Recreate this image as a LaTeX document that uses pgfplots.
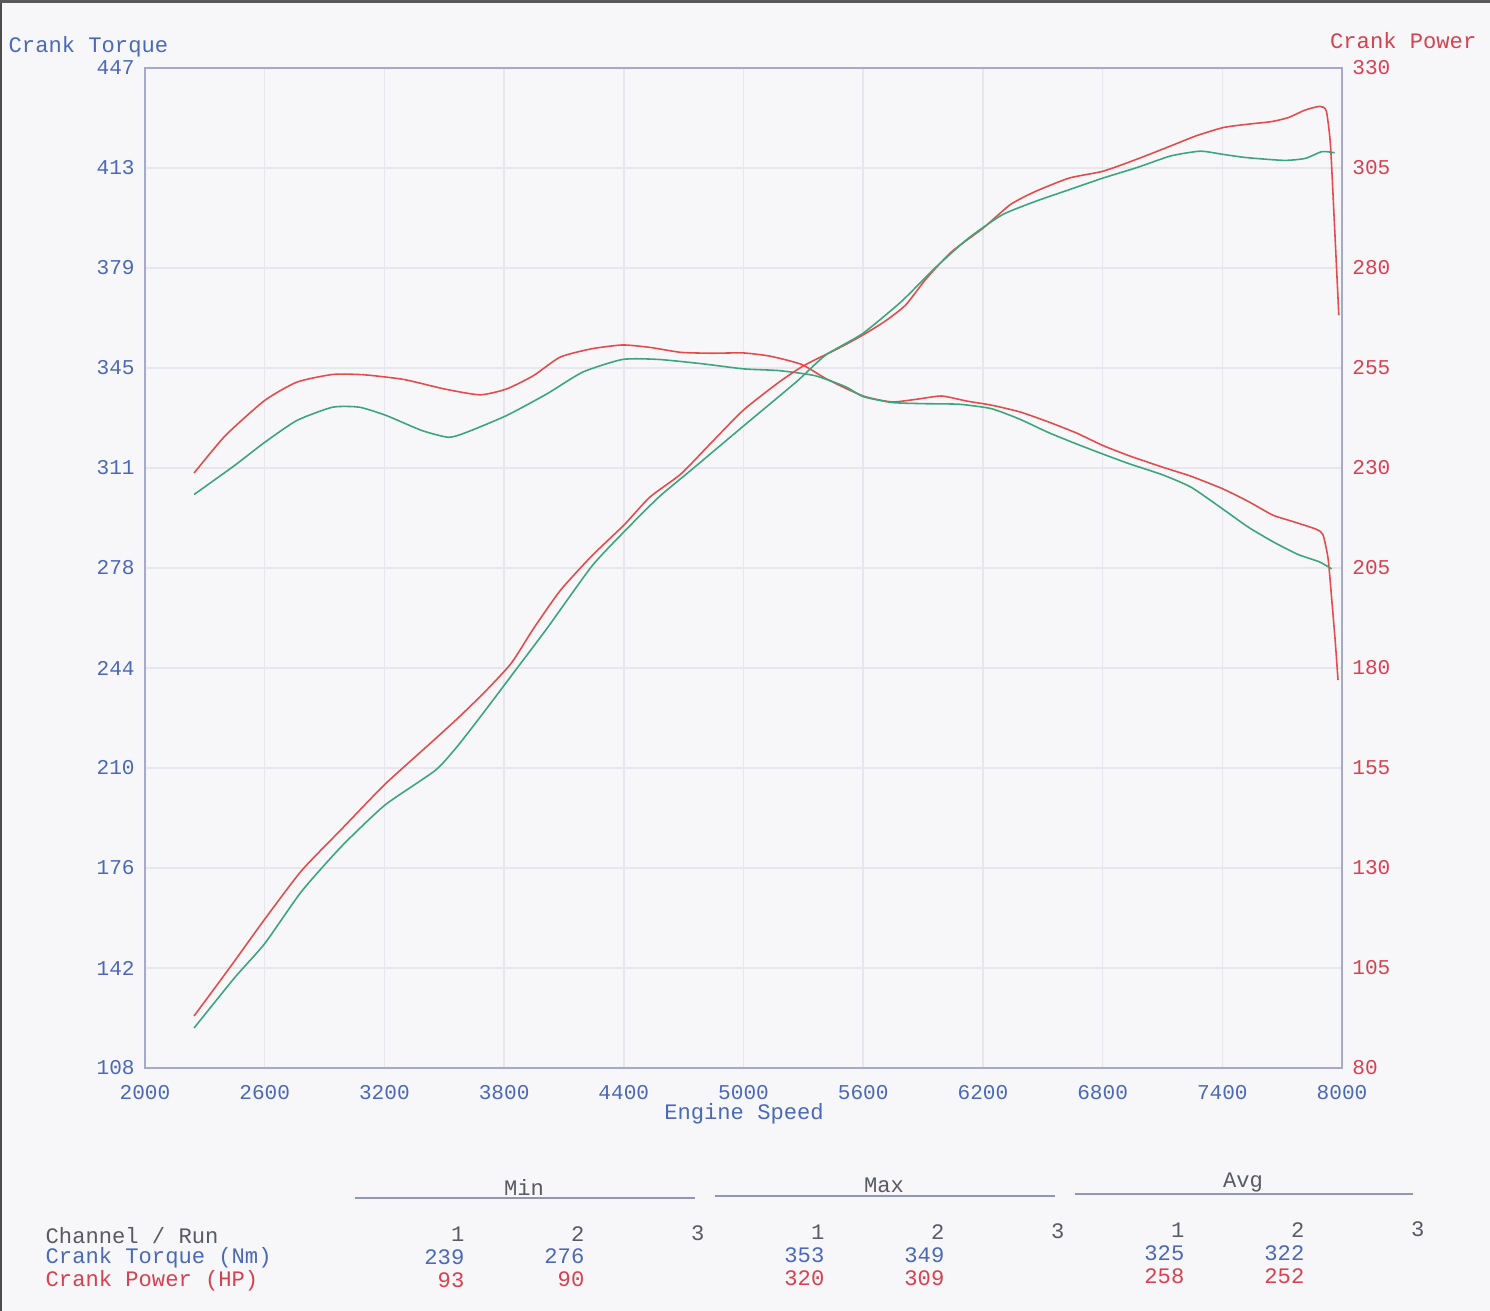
\documentclass[border=0pt]{standalone}
\usepackage{fontspec}
\setmainfont{Liberation Mono}
\usepackage{pgfplots}
\pgfplotsset{compat=1.18}
\definecolor{paper}{RGB}{247,247,249}
\definecolor{bluetext}{RGB}{75,105,185}
\definecolor{redtext}{RGB}{215,65,80}
\definecolor{graytext}{RGB}{90,90,100}
\definecolor{redline}{RGB}{228,75,75}
\definecolor{greenline}{RGB}{60,165,125}
\definecolor{gridc}{RGB}{230,230,236}
\definecolor{framec}{RGB}{165,170,205}
\definecolor{rulec}{RGB}{145,150,185}
\newcommand{\tf}{\fontsize{6.3}{7.5}\selectfont}
\begin{document}
\begin{tikzpicture}[x=1cm,y=1cm]
\fill[paper] (0,0) rectangle (14.9,13.11);
\path[use as bounding box] (0,0) rectangle (14.9,13.11);
\fill[black!70] (0,0) rectangle (0.025,13.11);
\fill[black!65] (0,13.08) rectangle (14.9,13.11);
\begin{axis}[
  scale only axis, width=11.97cm, height=10cm,
  at={(1.45cm,2.43cm)}, anchor=south west,
  xmin=2000, xmax=8000, ymin=108, ymax=447,
  xtick={2000,2600,3200,3800,4400,5000,5600,6200,6800,7400,8000},
  xticklabels={2000,2600,3200,3800,4400,5000,5600,6200,6800,7400,8000},
  ytick={108,141.9,175.8,209.7,243.6,277.5,311.4,345.3,379.2,413.1,447},
  yticklabels={108,142,176,210,244,278,311,345,379,413,447},
  grid=major, major grid style={gridc, line width=0.45pt},
  axis line style={framec, line width=0.5pt},
  major tick length=0pt,
  tick label style={font=\fontsize{6}{7}\selectfont, text=bluetext},
  xticklabel style={yshift=-0.05cm},
  yticklabel style={xshift=0.02cm},
  every axis plot/.append style={line width=0.45pt, smooth, tension=0.35},
  clip=false,
]
\addplot[redline] coordinates {
(2246,309.7)(2403,322.4)(2600,334.3)(2761,340.5)(2940,343.1)(3097,343.0)(3298,341.4)(3500,338.2)(3679,336.2)(3813,338.2)(3947,342.7)(4081,349.0)(4238,351.8)(4394,353.1)(4529,352.3)(4686,350.6)(4842,350.3)(5000,350.4)(5134,349.3)(5291,346.5)(5421,341.4)(5600,335.8)(5743,333.8)(5868,334.7)(5993,335.8)(6118,334.1)(6243,332.7)(6386,330.4)(6529,327.0)(6671,323.2)(6802,319.0)(6939,315.4)(7100,311.7)(7243,308.6)(7400,304.4)(7529,300.1)(7654,295.4)(7761,293.1)(7868,290.7)(7904,288.9)(7930,280.8)(7948,267.3)(7966,252.7)(7980,239.5)};
\addplot[greenline] coordinates {
(2246,302.4)(2448,312.2)(2600,320.1)(2761,327.5)(2940,332.0)(3075,332.0)(3209,329.2)(3388,324.1)(3522,321.8)(3612,323.5)(3813,329.2)(4014,336.5)(4194,343.9)(4394,348.2)(4574,348.2)(4797,346.7)(5000,345.0)(5179,344.4)(5358,342.7)(5510,339.0)(5600,335.6)(5743,333.6)(5904,333.2)(6082,333.0)(6243,331.5)(6386,327.9)(6529,323.4)(6671,319.5)(6802,316.1)(6939,312.7)(7100,309.1)(7243,304.9)(7400,297.6)(7529,291.4)(7654,286.4)(7779,282.1)(7886,279.6)(7948,277.2)};
\end{axis}
\begin{axis}[
  scale only axis, width=11.97cm, height=10cm,
  at={(1.45cm,2.43cm)}, anchor=south west,
  xmin=2000, xmax=8000, ymin=80, ymax=330,
  axis x line=none, axis y line*=right,
  ytick={80,105,...,330},
  yticklabels={80,105,130,155,180,205,230,255,280,305,330},
  axis line style={framec, line width=0.5pt},
  major tick length=0pt,
  tick label style={font=\fontsize{6}{7}\selectfont, text=redtext},
  yticklabel style={xshift=-0.02cm},
  every axis plot/.append style={line width=0.45pt, smooth, tension=0.35},
  clip=false,
]
\addplot[redline] coordinates {
(2246,93.0)(2425,105.1)(2600,117.2)(2784,129.3)(2985,139.7)(3202,150.9)(3433,161.3)(3567,167.4)(3701,173.9)(3836,181.2)(3948,189.9)(4082,199.4)(4239,208.0)(4402,215.8)(4530,222.7)(4686,228.5)(4842,236.5)(5000,244.5)(5179,251.5)(5306,255.7)(5475,259.9)(5597,263.2)(5707,266.6)(5812,270.7)(5917,277.4)(6044,284.1)(6202,290.0)(6339,295.9)(6466,299.2)(6634,302.5)(6803,304.2)(6972,307.2)(7141,310.5)(7267,313.0)(7404,315.1)(7520,315.9)(7647,316.6)(7731,317.6)(7816,319.5)(7889,320.4)(7921,319.3)(7942,310.9)(7963,290.0)(7984,268.2)};
\addplot[greenline] coordinates {
(2246,90.0)(2448,102.5)(2600,111.1)(2784,124.1)(2985,135.4)(3202,145.7)(3455,154.4)(3567,160.5)(3701,169.1)(3858,179.5)(4015,189.9)(4239,205.4)(4402,214.1)(4575,222.7)(4750,230.0)(5000,240.5)(5264,251.5)(5411,258.2)(5597,263.6)(5791,271.6)(5960,280.0)(6129,287.5)(6297,293.3)(6466,296.7)(6634,299.6)(6803,302.5)(6972,305.1)(7141,308.0)(7289,309.2)(7404,308.4)(7520,307.6)(7710,306.9)(7816,307.4)(7900,309.1)(7963,308.8)};
\end{axis}
% titles
\node[anchor=west, text=bluetext, inner sep=0] at (0.08,12.64) {\tf Crank Torque};
\node[anchor=east, text=redtext, inner sep=0] at (14.77,12.70) {\tf Crank Power};
\node[text=bluetext, inner sep=0] at (7.44,1.97) {\tf Engine Speed};
% table
\node[text=graytext, inner sep=0] at (5.24,1.24) {\tf Min};
\node[text=graytext, inner sep=0] at (8.84,1.26) {\tf Max};
\node[text=graytext, inner sep=0] at (12.43,1.28) {\tf Avg};
\draw[rulec, line width=0.5pt] (3.55,1.13)--(6.95,1.13);
\draw[rulec, line width=0.5pt] (7.15,1.15)--(10.55,1.15);
\draw[rulec, line width=0.5pt] (10.75,1.17)--(14.13,1.17);
\node[anchor=west, text=graytext, inner sep=0] at (0.45,0.75) {\tf Channel / Run};
\node[anchor=west, text=bluetext, inner sep=0] at (0.45,0.53) {\tf Crank Torque (Nm)};
\node[anchor=west, text=redtext, inner sep=0] at (0.45,0.30) {\tf Crank Power (HP)};
\foreach \x/\l/\yy in {4.65/1/0.77,5.85/2/0.77,7.05/3/0.78,8.25/1/0.79,9.45/2/0.79,10.65/3/0.80,11.85/1/0.81,13.05/2/0.81,14.25/3/0.82}
  \node[anchor=east, text=graytext, inner sep=0] at (\x,\yy) {\tf \l};
\foreach \x/\l/\yy in {4.65/239/0.54,5.85/276/0.545,8.25/353/0.56,9.45/349/0.56,11.85/325/0.58,13.05/322/0.58}
  \node[anchor=east, text=bluetext, inner sep=0] at (\x,\yy) {\tf \l};
\foreach \x/\l/\yy in {4.65/93/0.31,5.85/90/0.315,8.25/320/0.33,9.45/309/0.33,11.85/258/0.345,13.05/252/0.345}
  \node[anchor=east, text=redtext, inner sep=0] at (\x,\yy) {\tf \l};
\end{tikzpicture}
\end{document}
